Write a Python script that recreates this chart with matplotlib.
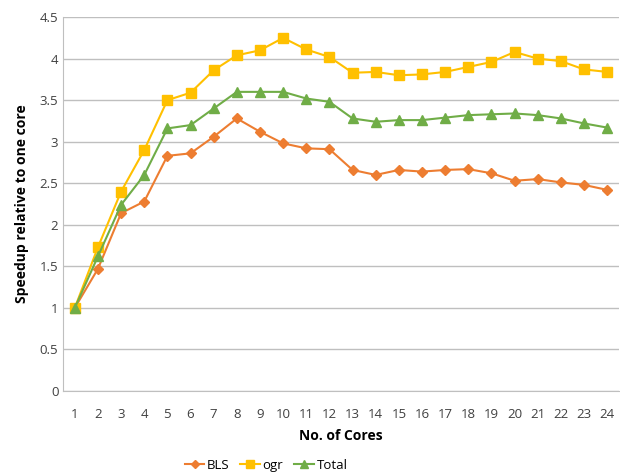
import numpy as np
import matplotlib
matplotlib.use('agg')
import matplotlib.pyplot as plt

plt.rcParams['font.family'] = ['Open Sans', 'DejaVu Sans']

cores = list(range(1, 25))
bls = [1, 1.47, 2.14, 2.28, 2.83, 2.86, 3.06, 3.28, 3.12, 2.98, 2.92, 2.91,
       2.66, 2.60, 2.66, 2.64, 2.66, 2.67, 2.62, 2.53, 2.55, 2.51, 2.48, 2.42]
ogr = [1, 1.73, 2.40, 2.90, 3.50, 3.59, 3.86, 4.04, 4.10, 4.25, 4.11, 4.02,
       3.83, 3.84, 3.80, 3.81, 3.84, 3.90, 3.96, 4.08, 4.00, 3.97, 3.87, 3.84]
total = [1, 1.62, 2.24, 2.60, 3.16, 3.20, 3.40, 3.60, 3.60, 3.60, 3.52, 3.48,
         3.28, 3.24, 3.26, 3.26, 3.29, 3.32, 3.33, 3.34, 3.32, 3.28, 3.22, 3.17]

fig = plt.figure(figsize=(6.2, 4.75), dpi=100)
ax = fig.add_axes([0.102, 0.177, 0.896, 0.787])

ax.plot(cores, bls, color='#ED7D31', marker='D', markersize=5, lw=1.5, label='BLS')
ax.plot(cores, ogr, color='#FFC000', marker='s', markersize=7, lw=1.5, label='ogr')
ax.plot(cores, total, color='#70AD47', marker='^', markersize=7, lw=1.5, label='Total')

ax.set_xlim(0.5, 24.5)
ax.set_ylim(0, 4.5)
ax.set_xticks(cores)
ax.set_yticks(np.arange(0, 4.51, 0.5))
ax.set_yticklabels(['0', '0.5', '1', '1.5', '2', '2.5', '3', '3.5', '4', '4.5'])
ax.yaxis.grid(True, color='#bfbfbf', lw=1)
ax.set_axisbelow(True)
for s in ['top', 'right']:
    ax.spines[s].set_visible(False)
ax.spines['left'].set_color('#bfbfbf')
ax.spines['bottom'].set_color('#bfbfbf')
ax.tick_params(length=0, labelsize=9.5, colors='#404040')
ax.tick_params(axis='x', pad=12)

ax.set_xlabel('No. of Cores', fontsize=10, fontweight='bold', labelpad=6)
ax.set_ylabel('Speedup relative to one core', fontsize=10, fontweight='bold', labelpad=8)

ax.legend(loc='upper center', bbox_to_anchor=(0.365, -0.15), ncol=3, frameon=False,
          fontsize=9.5, handlelength=1.5, handletextpad=0.2, columnspacing=0.8,
          markerscale=0.8)

plt.savefig('out.png', dpi=100)
